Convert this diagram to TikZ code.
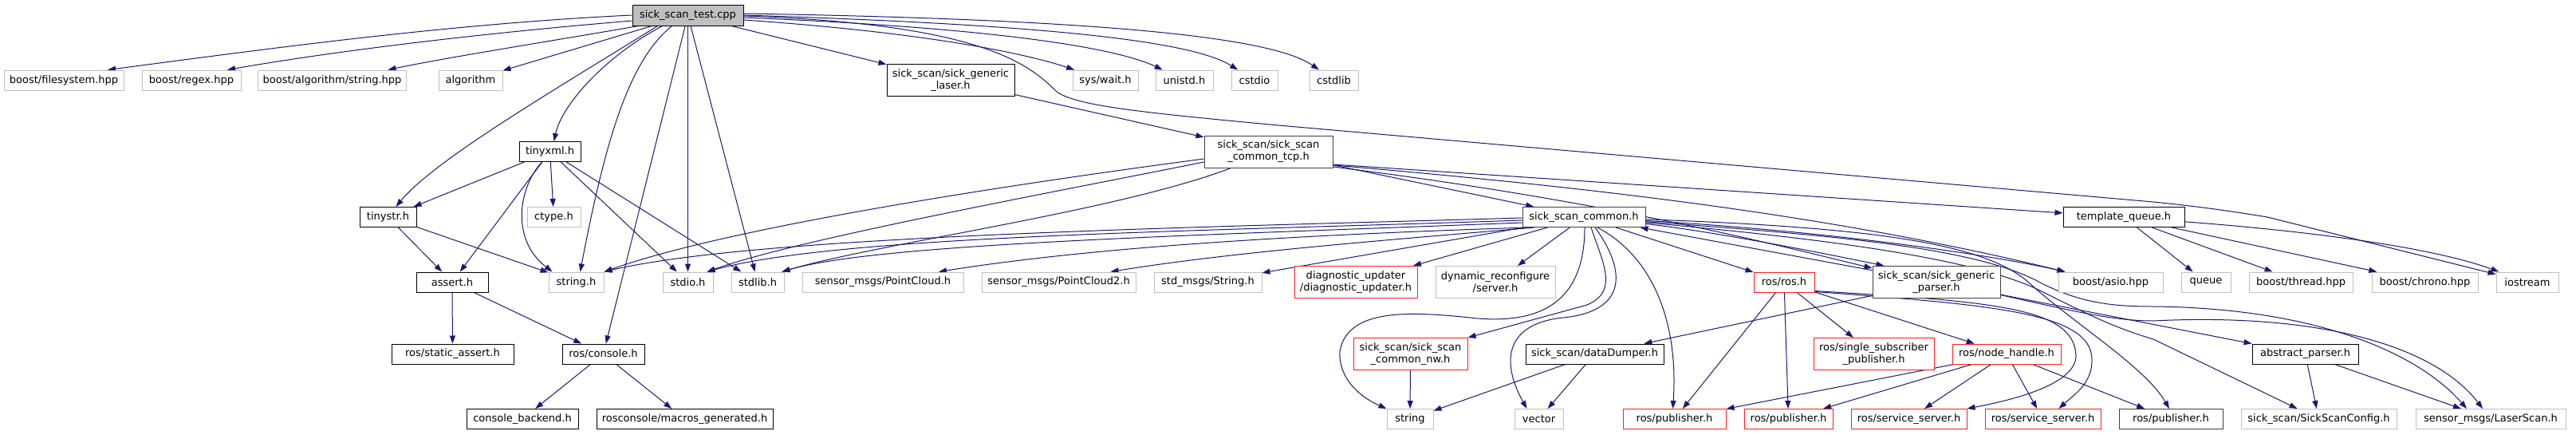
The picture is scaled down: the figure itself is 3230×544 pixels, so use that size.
\documentclass[tikz,border=0pt]{standalone}
\usepackage{fontspec}
\setmainfont{DejaVu Sans}
\usepackage{tikz}
\usetikzlibrary{calc, arrows.meta, backgrounds, positioning}
\tikzset{
    filenode/.style = {draw, rectangle, fill=white, line width=1pt, inner xsep=6pt, inner ysep=1pt,
      minimum height=25pt, node distance=0em, font=\fontsize{13pt}{15pt}\selectfont, align=center},
    extnode/.style = {filenode, draw=grey75},
    rednode/.style = {filenode, draw=docred},
    docnode/.style = {filenode, draw=black},
    darknode/.style = {filenode, draw=grey25},
    topnode/.style = {filenode, draw=black, fill=grey75, minimum height=26pt},
    twoline/.style = {minimum height=40pt},
    incl/.style = {edgeblue, line width=1pt, -{Triangle[length=10pt, width=7pt]}}
}
\definecolor{edgeblue}{RGB}{25, 25, 112}
\definecolor{grey75}{RGB}{191, 191, 191}
\definecolor{grey25}{RGB}{64, 64, 64}
\definecolor{docred}{RGB}{255, 30, 30}

\begin{document}
\begin{tikzpicture}[x=1pt, y=-1pt]
\useasboundingbox (0,0) rectangle (3230,544);

\node [topnode, name=test, minimum width=139pt] at (862.5,19) {sick\_scan\_test.cpp};

\node [extnode, name=filesystem, minimum width=150pt] at (80,100.5) {boost/filesystem.hpp};
\node [extnode, name=regex, minimum width=124pt, right of = filesystem, xshift=160pt] {boost/regex.hpp};
\node [extnode, name=algostring, minimum width=185pt, right of = regex, xshift=176.5pt] {boost/algorithm/string.hpp};
\node [extnode, name=algorithm, minimum width=80pt, right of = algostring, xshift=173.5pt] {algorithm};
\node [docnode, twoline, name=genlaser, minimum width=160pt, right of = algorithm, xshift=602pt] {sick\_scan/sick\_generic\\\_laser.h};
\node [extnode, name=syswait, minimum width=82pt, right of = genlaser, xshift=194pt] {sys/wait.h};
\node [extnode, name=unistd, minimum width=72pt, right of = syswait, xshift=99pt] {unistd.h};
\node [extnode, name=cstdio, minimum width=58pt, right of = unistd, xshift=88pt] {cstdio};
\node [extnode, name=cstdlib, minimum width=61pt, right of = cstdio, xshift=99.5pt] {cstdlib};

\node [docnode, name=tinyxml, minimum width=77pt] at (689.5,190) {tinyxml.h};
\node [darknode, twoline, name=tcp, minimum width=161pt, right of = tinyxml, xshift=901pt] {sick\_scan/sick\_scan\\\_common\_tcp.h};

\node [docnode, name=tinystr, minimum width=71pt] at (486.5,272) {tinystr.h};
\node [extnode, name=ctype, minimum width=67pt, right of = tinystr, xshift=208pt] {ctype.h};
\node [darknode, name=common, minimum width=154pt, right of = ctype, xshift=1291.5pt] {sick\_scan\_common.h};
\node [docnode, name=tqueue, minimum width=152pt, right of = common, xshift=677pt] {template\_queue.h};

\node [docnode, name=asserth, minimum width=90pt] at (567,353.5) {assert.h};
\node [extnode, name=stringh, minimum width=69pt, right of = asserth, xshift=155.5pt] {string.h};
\node [extnode, name=stdio, minimum width=63pt, right of = stringh, xshift=140pt] {stdio.h};
\node [extnode, name=stdlib, minimum width=66pt, right of = stdio, xshift=87.5pt] {stdlib.h};
\node [extnode, name=pcloud, minimum width=202pt, right of = stdlib, xshift=157pt] {sensor\_msgs/PointCloud.h};
\node [extnode, name=pcloud2, minimum width=193pt, right of = pcloud, xshift=220.5pt] {sensor\_msgs/PointCloud2.h};
\node [extnode, name=stdstring, minimum width=135pt, right of = pcloud2, xshift=187pt] {std\_msgs/String.h};
\node [rednode, twoline, name=diag, minimum width=154pt, right of = stdstring, xshift=185.5pt] {diagnostic\_updater\\/diagnostic\_updater.h};
\node [extnode, twoline, name=dynrec, minimum width=150pt, right of = diag, xshift=175pt] {dynamic\_reconfigure\\/server.h};
\node [rednode, name=ros, minimum width=76pt, right of = dynrec, xshift=362pt] {ros/ros.h};
\node [darknode, twoline, name=genparser, minimum width=160pt, right of = ros, xshift=191pt] {sick\_scan/sick\_generic\\\_parser.h};
\node [extnode, name=asio, minimum width=131pt, right of = genparser, xshift=218.5pt] {boost/asio.hpp};
\node [extnode, name=queue, minimum width=62pt, right of = asio, xshift=119.5pt] {queue};
\node [extnode, name=thread, minimum width=130pt, right of = queue, xshift=119pt] {boost/thread.hpp};
\node [extnode, name=chrono, minimum width=133pt, right of = thread, xshift=155.5pt] {boost/chrono.hpp};
\node [extnode, name=iostream, minimum width=78pt, right of = chrono, xshift=128.5pt] {iostream};

\node [docnode, name=staticassert, minimum width=153pt] at (567.5,443.5) {ros/static\_assert.h};
\node [docnode, name=console, minimum width=103pt, right of = staticassert, xshift=189pt] {ros/console.h};
\node [rednode, twoline, name=nw, minimum width=143pt, right of = console, xshift=1012pt] {sick\_scan/sick\_scan\\\_common\_nw.h};
\node [docnode, name=dumper, minimum width=173pt, right of = nw, xshift=231pt] {sick\_scan/dataDumper.h};
\node [rednode, twoline, name=singlesub, minimum width=151pt, right of = dumper, xshift=350pt] {ros/single\_subscriber\\\_publisher.h};
\node [rednode, name=nodehandle, minimum width=136pt, right of = singlesub, xshift=166.5pt] {ros/node\_handle.h};
\node [docnode, name=absparser, minimum width=133pt, right of = nodehandle, xshift=374.5pt] {abstract\_parser.h};

\node [docnode, name=backend, minimum width=140pt] at (655,525) {console\_backend.h};
\node [docnode, name=macros, minimum width=221pt, right of = backend, xshift=203.5pt] {rosconsole/macros\_generated.h};
\node [extnode, name=string, minimum width=58pt, right of = macros, xshift=909.5pt] {string};
\node [extnode, name=vector, minimum width=61pt, right of = string, xshift=161.5pt] {vector};
\node [rednode, name=pub1, minimum width=129pt, right of = vector, xshift=170pt] {ros/publisher.h};
\node [rednode, name=pub2, minimum width=111pt, right of = pub1, xshift=143pt] {ros/publisher.h};
\node [rednode, name=srv1, minimum width=145pt, right of = pub2, xshift=151pt] {ros/service\_server.h};
\node [rednode, name=srv2, minimum width=145pt, right of = srv1, xshift=168pt] {ros/service\_server.h};
\node [darknode, name=pub3, minimum width=130pt, right of = srv2, xshift=160.5pt] {ros/publisher.h};
\node [extnode, name=config, minimum width=195pt, right of = pub3, xshift=185.5pt] {sick\_scan/SickScanConfig.h};
\node [extnode, name=laserscan, minimum width=188pt, right of = config, xshift=215.5pt] {sensor\_msgs/LaserScan.h};

\begin{scope}[on background layer]
\draw[incl] (test.west) .. controls (560,30) and (330,62) .. ([xshift=55pt]filesystem.north);
\draw[incl] ([yshift=-7pt]test.west) .. controls (600,42) and (420,64) .. ([xshift=45pt]regex.north);
\draw[incl] ([xshift=-62pt]test.south) .. controls (700,50) and (560,72) .. ([xshift=70pt]algostring.north);
\draw (test) edge[incl] (algorithm);
\draw[incl] ([xshift=-38pt]test.south) .. controls (700,110) and (545,200) .. ([xshift=10pt]tinystr.north);
\draw[incl] ([xshift=-32pt]test.south) .. controls (760,70) and (705,130) .. ([xshift=5pt]tinyxml.north);
\draw[incl] ([xshift=-20pt]test.south) .. controls (790,75) and (760,170) .. ([xshift=5pt]stringh.north);
\draw (test) edge[incl] (console);
\draw (test) edge[incl] (stdio);
\draw (test) edge[incl] (stdlib);
\draw (test) edge[incl] (genlaser);
\draw[incl] ([yshift=-6pt]test.east) .. controls (1150,40) and (1280,65) .. (syswait);
\draw[incl] ([yshift=-3pt]test.east) .. controls (1250,35) and (1400,60) .. (unistd);
\draw[incl] (test.east) .. controls (1350,32) and (1500,55) .. (cstdio);
\draw[incl] ([yshift=2pt]test.east) .. controls (1420,25) and (1600,50) .. (cstdlib);
\draw[incl] ([yshift=-1pt]test.east) .. controls (1230,30) and (1290,80) .. (1325,115)
  .. controls (1350,132) and (1420,140) .. (1603,157) -- (2700,253)
  .. controls (2760,259) and (2800,265) .. (2843,272) -- (iostream);

\draw (tinyxml) edge[incl] (tinystr);
\draw (tinyxml) edge[incl] (asserth);
\draw[incl] ([xshift=-10pt]tinyxml.south) .. controls (650,235) and (640,300) .. ([xshift=-30pt]stringh.north);
\draw (tinyxml) edge[incl] (ctype);
\draw (tinyxml) edge[incl] (stdio);
\draw (tinyxml) edge[incl] (stdlib);
\draw (tinystr) edge[incl] (stringh);
\draw (tinystr) edge[incl] (asserth);
\draw (asserth) edge[incl] (staticassert);
\draw (asserth) edge[incl] (console);
\draw (console) edge[incl] (backend);
\draw (console) edge[incl] (macros);

\draw (genlaser) edge[incl] (tcp);
\draw[incl] ([yshift=-9pt]tcp.west) .. controls (1200,240) and (900,290) .. (stringh.north east);
\draw[incl] ([yshift=-13pt]tcp.west) .. controls (1300,245) and (1000,300) .. ([xshift=-8pt]stdio.north east);
\draw[incl] ([xshift=-47pt]tcp.south) .. controls (1400,265) and (1100,305) .. ([xshift=-3pt]stdlib.north east);
\draw (tcp) edge[incl] (common);
\draw ([yshift=-16pt]tcp.east) edge[incl] (tqueue);
\draw[incl] ([yshift=-17pt]tcp.east) .. controls (2000,235) and (2300,270) .. ([xshift=9pt]asio.north west);
\draw[incl] ([yshift=-19pt]tcp.east) .. controls (2000,250) and (2200,300) .. ([yshift=-3pt]genparser.north west);

\draw[incl] ([yshift=-1pt]common.west) .. controls (1500,285) and (950,295) .. (stringh.north east);
\draw[incl] ([yshift=-4pt]common.west) .. controls (1500,290) and (1050,295) .. ([xshift=-8pt]stdio.north east);
\draw[incl] ([yshift=-7pt]common.west) .. controls (1500,295) and (1100,305) .. ([xshift=-3pt]stdlib.north east);
\draw[incl] ([xshift=-70pt]common.south) .. controls (1700,292) and (1400,305) .. ([xshift=70pt]pcloud.north);
\draw[incl] ([xshift=-62pt]common.south) .. controls (1750,300) and (1550,315) .. ([xshift=65pt]pcloud2.north);
\draw (common) edge[incl] (stdstring);
\draw (common) edge[incl] (diag);
\draw (common) edge[incl] (dynrec);
\draw[incl] ([xshift=1pt]common.south) .. controls (1987,380) and (1930,405) .. (1853,399)
  .. controls (1770,390) and (1690,385) .. (1680,440) .. controls (1678,470) and (1700,495) .. (string.north west);
\draw[incl] ([xshift=9pt]common.south) .. controls (2010,330) and (2030,365) .. (1990,382) -- (nw.north east);
\draw[incl] ([xshift=14pt]common.south) .. controls (2040,340) and (2040,390) .. (1960,398)
  .. controls (1890,405) and (1880,450) .. ([xshift=-15pt]vector.north);
\draw[incl] ([xshift=17pt]common.south) .. controls (2070,320) and (2105,400) .. ([xshift=-2pt]pub1.north);
\draw (common) edge[incl] (ros);
\draw[incl] (common) .. controls (2150,290) and (2300,320) .. ([xshift=15pt]genparser.north west);
\draw[incl] (common) .. controls (2300,290) and (2500,320) .. ([xshift=9pt]asio.north west);
\draw[incl] (common) .. controls (2350,285) and (2490,305) .. (2545,355)
  .. controls (2600,405) and (2690,460) .. ([xshift=-2pt]pub3.north);
\draw[incl] (common) .. controls (2300,295) and (2480,310) .. (2560,355)
  .. controls (2610,380) and (2650,384) .. (2700,384) .. controls (2900,386) and (3030,440) .. ([xshift=-30pt]laserscan.north);
\draw[incl] (common) .. controls (2300,300) and (2480,325) .. (2560,365)
  .. controls (2620,395) and (2650,410) .. (2700,425) -- ([xshift=-27pt]config.north);

\draw (genparser) edge[incl] (common);
\draw (genparser) edge[incl] (dumper);
\draw (genparser) edge[incl] (absparser);
\draw[incl] ([yshift=-16pt]genparser.east) .. controls (2600,390) and (2650,402) .. (2700,402)
  .. controls (2900,392) and (3050,430) .. ([xshift=-10pt]laserscan.north);

\draw (ros) edge[incl] (pub1);
\draw (ros) edge[incl] (pub2);
\draw (ros) edge[incl] (singlesub);
\draw (ros) edge[incl] (nodehandle);
\draw[incl] ([yshift=-11pt]ros.east) .. controls (2500,378) and (2600,385) .. (2603,445)
  .. controls (2604,480) and (2530,500) .. (srv1.north east);
\draw[incl] ([yshift=-12pt]ros.east) .. controls (2500,382) and (2622,392) .. (2623,450)
  .. controls (2624,480) and (2600,495) .. ([xshift=20pt]srv2.north);

\draw (nodehandle) edge[incl] (pub1);
\draw (nodehandle) edge[incl] (pub2);
\draw (nodehandle) edge[incl] (srv1);
\draw (nodehandle) edge[incl] (srv2);
\draw (nodehandle) edge[incl] (pub3);

\draw (dumper) edge[incl] (string);
\draw (dumper) edge[incl] (vector);
\draw (nw) edge[incl] (string);
\draw (absparser) edge[incl] (config);
\draw (absparser) edge[incl] (laserscan);

\draw (tqueue) edge[incl] (queue);
\draw (tqueue) edge[incl] (thread);
\draw (tqueue) edge[incl] (chrono);
\draw[incl] (tqueue) .. controls (2900,290) and (3050,310) .. (iostream);
\end{scope}
\end{tikzpicture}
\end{document}
